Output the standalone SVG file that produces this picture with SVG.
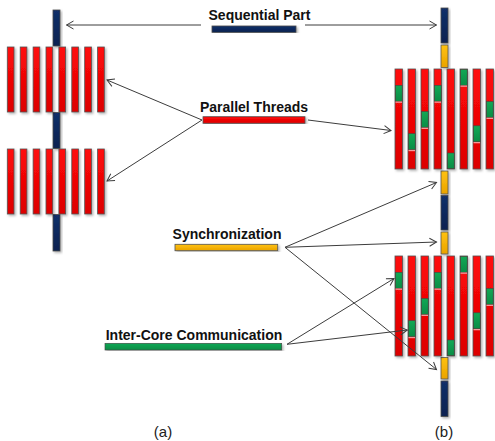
<svg xmlns="http://www.w3.org/2000/svg" xmlns:xlink="http://www.w3.org/1999/xlink" width="495" height="441" viewBox="0 0 495 441">
  <style>
    .seq { fill: url(#gNavy); stroke: #4a4a4a; stroke-width: 0.8; }
    .par { fill: url(#gRed); stroke: #555; stroke-width: 0.8; }
    .syn { fill: url(#gYellow); stroke: #555; stroke-width: 0.8; }
    .com { fill: url(#gGreen); stroke: #444; stroke-width: 0.6; }
    .hl { fill: #f29a9a; }
    .sh { filter: url(#shadow); }
    .lbl { font-family: "Liberation Sans", Arial, sans-serif; font-weight: bold; font-size: 14px; fill: #111; text-anchor: middle; }
    .cap { font-family: "Liberation Sans", Arial, sans-serif; font-size: 15px; fill: #222; text-anchor: middle; }
    .conn line { stroke: #3c3c3c; stroke-width: 1; marker-end: url(#open); }
  </style>
  <defs>
    <filter id="shadow" x="-30%" y="-10%" width="160%" height="120%">
      <feDropShadow dx="1.5" dy="1.5" stdDeviation="0.8" flood-color="#000" flood-opacity="0.3"/>
    </filter>
    <linearGradient id="gNavy" x1="0" y1="0" x2="0" y2="1">
      <stop offset="0" stop-color="#12306a"/>
      <stop offset="1" stop-color="#0b2250"/>
    </linearGradient>
    <linearGradient id="gRed" x1="0" y1="0" x2="0" y2="1">
      <stop offset="0" stop-color="#ff0a0a"/>
      <stop offset="1" stop-color="#dc0000"/>
    </linearGradient>
    <linearGradient id="gYellow" x1="0" y1="0" x2="0" y2="1">
      <stop offset="0" stop-color="#ffc20e"/>
      <stop offset="1" stop-color="#eaa300"/>
    </linearGradient>
    <linearGradient id="gGreen" x1="0" y1="0" x2="0" y2="1">
      <stop offset="0" stop-color="#12a855"/>
      <stop offset="1" stop-color="#0a8c45"/>
    </linearGradient>
    <marker id="open" markerUnits="userSpaceOnUse" markerWidth="12" markerHeight="12" viewBox="-9 -6 12 12" refX="0" refY="0" orient="auto">
      <path d="M-7,-4 L0,0 L-7,4" fill="none" stroke="#3c3c3c" stroke-width="1"/>
    </marker>

    <!-- eight plain threads, used by the left-hand column -->
    <g id="plainThreads" class="sh">
      <rect class="par" x="7.3" y="0" width="6.7" height="65"/>
      <rect class="par" x="20.2" y="0" width="6.7" height="65"/>
      <rect class="par" x="33.1" y="0" width="6.7" height="65"/>
      <rect class="par" x="46" y="0" width="6.7" height="65"/>
      <rect class="par" x="58.9" y="0" width="6.7" height="65"/>
      <rect class="par" x="71.8" y="0" width="6.7" height="65"/>
      <rect class="par" x="84.7" y="0" width="6.7" height="65"/>
      <rect class="par" x="97.6" y="0" width="6.7" height="65"/>
    </g>

    <!-- eight threads with communication slots, used by the right-hand column -->
    <g id="commThreads">
      <g class="sh">
        <rect class="par" x="395" y="0" width="7.5" height="100"/>
        <rect class="par" x="408" y="0" width="7.5" height="100"/>
        <rect class="par" x="421" y="0" width="7.5" height="100"/>
        <rect class="par" x="434" y="0" width="7.5" height="100"/>
        <rect class="par" x="447" y="0" width="7.5" height="100"/>
        <rect class="par" x="460" y="0" width="7.5" height="100"/>
        <rect class="par" x="473" y="0" width="7.5" height="100"/>
        <rect class="par" x="486" y="0" width="7.5" height="100"/>
      </g>
      <rect class="com" x="395.3" y="16.3" width="6.9" height="16"/>
      <rect class="hl" x="395.5" y="32.5" width="6.5" height="1.3"/>
      <rect class="com" x="408.3" y="64.7" width="6.9" height="16"/>
      <rect class="hl" x="408.5" y="80.9" width="6.5" height="1.3"/>
      <rect class="com" x="421.3" y="42.5" width="6.9" height="16"/>
      <rect class="hl" x="421.5" y="58.7" width="6.5" height="1.3"/>
      <rect class="com" x="434.3" y="16.3" width="6.9" height="16"/>
      <rect class="hl" x="434.5" y="32.5" width="6.5" height="1.3"/>
      <rect class="com" x="447.3" y="84" width="6.9" height="15.7"/>
      <rect class="com" x="460.3" y="0.3" width="6.9" height="16"/>
      <rect class="hl" x="460.5" y="16.5" width="6.5" height="1.3"/>
      <rect class="com" x="473.3" y="56.8" width="6.9" height="16"/>
      <rect class="hl" x="473.5" y="73" width="6.5" height="1.3"/>
      <rect class="com" x="486.3" y="32.5" width="6.9" height="16"/>
      <rect class="hl" x="486.5" y="48.7" width="6.5" height="1.3"/>
    </g>
  </defs>

  <rect width="495" height="441" fill="#fff"/>

  <!-- (a): sequential spine with two parallel regions -->
  <g id="columnA">
    <g class="sh">
      <rect class="seq" x="53" y="10" width="7" height="36"/>
      <rect class="seq" x="53" y="112.5" width="7" height="36"/>
      <rect class="seq" x="53" y="214.5" width="7" height="36.5"/>
    </g>
    <use xlink:href="#plainThreads" x="0" y="47"/>
    <use xlink:href="#plainThreads" x="0" y="149"/>
  </g>

  <!-- (b): spine with synchronization points and communicating threads -->
  <g id="columnB">
    <g class="sh">
      <rect class="seq" x="441" y="8" width="7" height="35"/>
      <rect class="syn" x="441" y="45" width="7" height="22.5"/>
      <rect class="syn" x="441" y="171" width="7" height="23"/>
      <rect class="seq" x="441" y="195.5" width="7" height="34.5"/>
      <rect class="syn" x="441" y="232" width="7" height="22"/>
      <rect class="syn" x="441" y="357.5" width="7" height="21.5"/>
      <rect class="seq" x="441" y="381" width="7" height="35.5"/>
    </g>
    <use xlink:href="#commThreads" x="0" y="69"/>
    <use xlink:href="#commThreads" x="0" y="256"/>
  </g>

  <!-- legend -->
  <g id="legendSequential">
    <text class="lbl" x="259.5" y="20">Sequential Part</text>
    <rect class="seq sh" x="212" y="26" width="84" height="6.3"/>
  </g>
  <g id="legendParallel">
    <text class="lbl" x="254" y="111.5">Parallel Threads</text>
    <rect class="par sh" x="203" y="116.7" width="102" height="6.6"/>
  </g>
  <g id="legendSync">
    <text class="lbl" x="227" y="238.5">Synchronization</text>
    <rect class="syn sh" x="175" y="244.3" width="102.7" height="6.4"/>
  </g>
  <g id="legendComm">
    <text class="lbl" x="194" y="340">Inter-Core Communication</text>
    <rect class="com sh" x="105" y="343.3" width="176.7" height="6.7"/>
  </g>

  <!-- connectors -->
  <g id="connectors" class="conn">
    <line x1="201" y1="25" x2="66.5" y2="25"/>
    <line x1="305" y1="25" x2="436.5" y2="25"/>
    <line x1="202" y1="120" x2="107" y2="80"/>
    <line x1="202" y1="120" x2="107" y2="181"/>
    <line x1="308" y1="120" x2="391" y2="130.5"/>
    <line x1="285" y1="247.3" x2="436.5" y2="182.5"/>
    <line x1="285" y1="247.3" x2="436.5" y2="242"/>
    <line x1="285" y1="247.3" x2="436.5" y2="369.5"/>
    <line x1="287" y1="344.3" x2="394" y2="278.5"/>
    <line x1="287" y1="344.3" x2="407.3" y2="330"/>
  </g>

  <!-- captions -->
  <g id="captions">
    <text class="cap" x="163" y="437">(a)</text>
    <text class="cap" x="444" y="437">(b)</text>
  </g>
</svg>
